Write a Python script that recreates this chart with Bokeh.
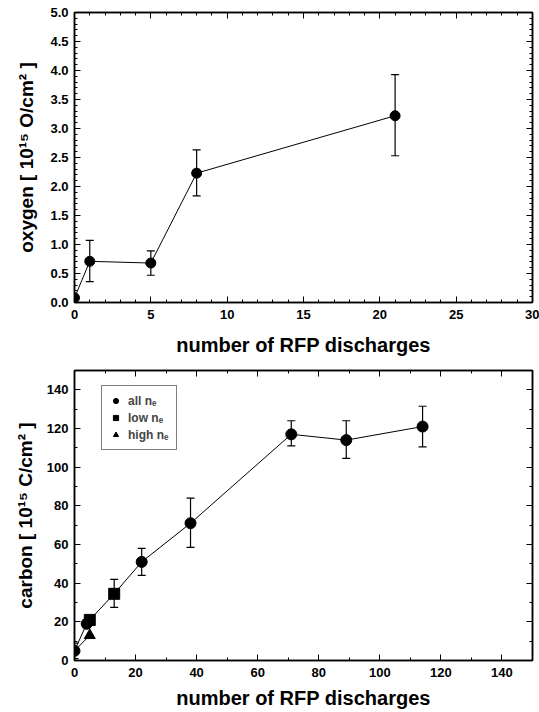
from bokeh.plotting import figure
from bokeh.layouts import column
from bokeh.models import (ColumnDataSource, Whisker, TeeHead, LinearAxis, SingleIntervalTicker,
                          Range1d, Legend, LegendItem, CustomJSTickFormatter, NumeralTickFormatter)
from bokeh.embed import file_html
from bokeh.resources import INLINE

FONT = "Liberation Sans"

# ---- oxygen data ----
ox_x = [0, 1, 5, 8, 21]
ox_y = [0.08, 0.71, 0.68, 2.23, 3.22]
ox_lo = [0.08, 0.36, 0.47, 1.84, 2.53]
ox_hi = [0.08, 1.07, 0.89, 2.63, 3.93]

# ---- carbon data ----
all_x = [0, 4, 22, 38, 71, 89, 114]
all_y = [5, 19, 51, 71, 117, 114, 121]
all_lo = [1, 17, 44, 58.5, 111, 104.5, 110.5]
all_hi = [9, 21, 58, 84, 124, 124, 131.5]
low_x = [5, 13]
low_y = [21, 34.5]
low_lo = [19, 27.5]
low_hi = [23, 42]
high_x = [5]
high_y = [13]

xlabel = "number of RFP discharges"
ylabel_top = "oxygen [ 10¹⁵ O/cm² ]"
ylabel_bot = "carbon [ 10¹⁵ C/cm² ]"
legend_labels = ["all nₑ", "low nₑ", "high nₑ"]


def style_axis(ax, interval, minor, show_labels=True):
    ax.ticker = SingleIntervalTicker(interval=interval, num_minor_ticks=minor)
    ax.major_tick_in = 6
    ax.major_tick_out = 0
    ax.minor_tick_in = 3
    ax.minor_tick_out = 0
    ax.axis_line_color = "black"
    ax.axis_line_width = 1.5
    ax.major_tick_line_color = "black"
    ax.minor_tick_line_color = "black"
    ax.major_label_text_font = FONT
    ax.major_label_text_font_style = "bold"
    ax.major_label_text_font_size = "13px"
    ax.major_label_text_color = "black"
    ax.axis_label_text_font = FONT
    ax.axis_label_text_font_style = "bold"
    ax.axis_label_text_color = "black"
    if not show_labels:
        ax.formatter = CustomJSTickFormatter(code="return ''")
        ax.major_label_standoff = 0


def make_fig(h, xr, yr, xi, xm, yi, ym, ml, mr, mt, mb):
    bx = LinearAxis()
    ly = LinearAxis()
    p = figure(width=539, height=h, output_backend="svg", toolbar_location=None,
               x_range=Range1d(*xr), y_range=Range1d(*yr),
               x_axis_location=None, y_axis_location=None,
               min_border_left=ml, min_border_right=mr, min_border_top=mt, min_border_bottom=mb)
    p.grid.visible = False
    p.outline_line_color = "black"
    p.outline_line_width = 1.5
    style_axis(bx, xi, xm)
    style_axis(ly, yi, ym)
    bx.major_label_standoff = 7
    ly.major_label_standoff = 6
    p.add_layout(bx, "below")
    p.add_layout(ly, "left")
    r = LinearAxis()
    style_axis(r, yi, ym, show_labels=False)
    p.add_layout(r, "right")
    t = LinearAxis()
    style_axis(t, xi, xm, show_labels=False)
    p.add_layout(t, "above")
    return p, bx, ly


# ---- top figure ----
p1, bx1, ly1 = make_fig(365, (0, 30), (0, 5), 5, 5, 0.5, 5, 74, 7, 12, 63)
ly1.formatter = NumeralTickFormatter(format="0.0")
bx1.axis_label = xlabel
bx1.axis_label_text_font_size = "20px"
bx1.axis_label_standoff = 12
ly1.axis_label = ylabel_top
ly1.axis_label_text_font_size = "19px"
ly1.axis_label_standoff = 10

src_o = ColumnDataSource(dict(x=ox_x, y=ox_y, lo=ox_lo, hi=ox_hi))
p1.line("x", "y", source=src_o, line_color="black", line_width=1)
p1.add_layout(Whisker(source=src_o, base="x", lower="lo", upper="hi", dimension="height",
                      line_color="black", line_width=1.2,
                      upper_head=TeeHead(size=8, line_color="black", line_width=1.2),
                      lower_head=TeeHead(size=8, line_color="black", line_width=1.2)))
p1.scatter("x", "y", source=src_o, marker="circle", size=10, color="black")

# ---- bottom figure ----
p2, bx2, ly2 = make_fig(347, (0, 150), (0, 150), 20, 2, 20, 2, 70, 7, 5, 52)
bx2.axis_label = xlabel
bx2.axis_label_text_font_size = "20px"
bx2.axis_label_standoff = 7
ly2.axis_label = ylabel_bot
ly2.axis_label_text_font_size = "19px"
ly2.axis_label_standoff = 8

pairs = sorted(zip(all_x + low_x, all_y + low_y))
main_x = [a for a, b in pairs]
main_y = [b for a, b in pairs]
p2.line(main_x, main_y, line_color="black", line_width=1)
p2.line([all_x[0]] + high_x, [all_y[0]] + high_y, line_color="black", line_width=1)

src_a = ColumnDataSource(dict(x=all_x, y=all_y, lo=all_lo, hi=all_hi))
src_l = ColumnDataSource(dict(x=low_x, y=low_y, lo=low_lo, hi=low_hi))
src_h = ColumnDataSource(dict(x=high_x, y=high_y))
for s in (src_a, src_l):
    p2.add_layout(Whisker(source=s, base="x", lower="lo", upper="hi", dimension="height",
                          line_color="black", line_width=1.2,
                          upper_head=TeeHead(size=8, line_color="black", line_width=1.2),
                          lower_head=TeeHead(size=8, line_color="black", line_width=1.2)))
ra = p2.scatter("x", "y", source=src_a, marker="circle", size=11, color="black")
rl = p2.scatter("x", "y", source=src_l, marker="square", size=11, color="black")
rh = p2.scatter("x", "y", source=src_h, marker="triangle", size=11, color="black")

leg = Legend(items=[LegendItem(label=legend_labels[0], renderers=[ra]),
                    LegendItem(label=legend_labels[1], renderers=[rl]),
                    LegendItem(label=legend_labels[2], renderers=[rh])],
             location=(27, 210))
leg.label_text_font = FONT
leg.label_text_font_style = "bold"
leg.label_text_font_size = "12px"
leg.label_height = 15
leg.glyph_height = 13
leg.glyph_width = 13
leg.spacing = 2
leg.padding = 7
leg.margin = 0
leg.label_standoff = 6
leg.border_line_color = "black"
leg.border_line_width = 1
p2.add_layout(leg, "center")

layout = column(p1, p2, spacing=0)
open("out.html", "w").write(file_html(layout, INLINE))
